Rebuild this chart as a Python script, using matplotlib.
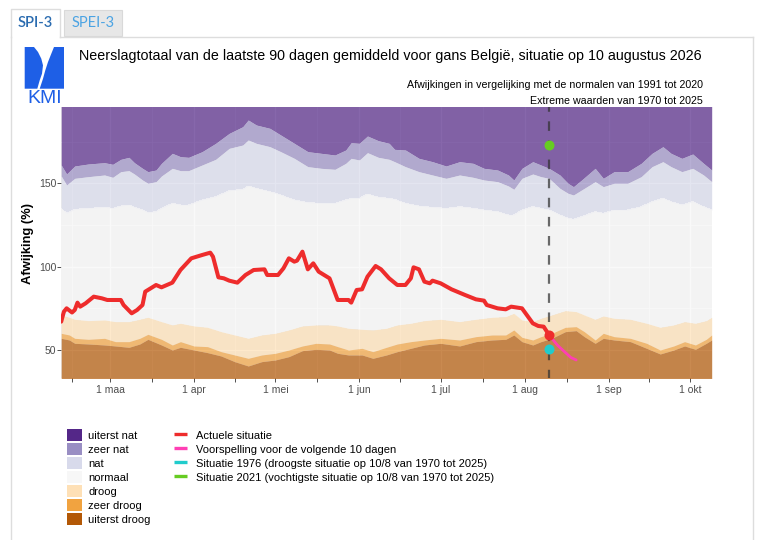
import numpy as np
import matplotlib
matplotlib.use('Agg')
import matplotlib.pyplot as plt
import matplotlib.dates as mdates
from matplotlib.patches import Patch, Rectangle, Polygon
from matplotlib.lines import Line2D

plt.rcParams['font.family'] = ['Liberation Sans', 'DejaVu Sans']

# ---------------- data ----------------
START = '2026-02-11'
END_DAY = 240          # 9 oktober
TODAY_DAY = 180        # 10 augustus

top_days = [0, 2, 5, 10, 16, 19, 22, 25, 27, 30, 32, 35, 37, 41, 44, 47, 52, 57, 62, 67,
            69, 72, 77, 81, 86, 91, 96, 101, 105, 107, 110, 113, 117, 121, 123, 127, 132, 137, 142, 147,
            152, 156, 161, 165, 167, 170, 174, 177, 180, 184, 187, 189, 192, 197, 200, 204, 209, 214, 218, 222,
            225, 229, 233, 237, 240]
thr_extreme_wet = [161, 155.6, 160.4, 161.6, 162.4, 161.4, 164.4, 165.6, 162.4, 159, 157, 158, 162, 168, 166, 165.6, 169, 174, 180, 184,
                   188, 185, 183, 179, 174, 169, 168, 167, 170, 174.4, 174, 178.4, 175.6, 174, 170.4, 170, 165, 163, 160.4, 163,
                   162, 159, 158, 155, 152, 159, 163, 161, 159, 155, 150, 148, 152, 159, 153, 157, 157, 162, 168, 172,
                   168, 165, 167.6, 162, 158]
thr_very_wet = [154.4, 149, 153, 154, 155, 153.6, 157, 157.6, 155.6, 152, 150, 151, 154.4, 159, 157.6, 157.6, 161, 164.4, 171, 173,
                176, 174, 172, 169, 165, 160, 159, 158.4, 162, 165, 164, 168.4, 165.6, 164.4, 163, 160, 157, 155, 153, 155,
                153.6, 152, 151, 148.4, 146.4, 153, 155.6, 154, 153, 147, 144, 143, 146, 151, 148, 150, 150, 154, 160, 163,
                160, 157, 159, 155, 151]
thr_wet = [135, 132, 134.4, 135, 135.6, 135, 136.4, 137, 135.6, 134, 132.4, 133, 135, 138, 137, 137, 140, 142, 145.6, 146.4,
           148.4, 147, 145, 143, 140, 138.4, 138, 138, 140, 141, 141, 143.6, 141.6, 141, 140.4, 138, 136.4, 135.6, 135, 136,
           135, 134, 133, 131, 131, 134, 136, 135, 134, 131, 129, 128.4, 130, 133, 132, 134, 134, 136, 139, 141,
           139, 137, 139, 136, 134]

bottom_days = [0, 3, 5, 10, 16, 20, 25, 29, 32, 37, 41, 44, 49, 54, 59, 64, 69, 74, 79, 84,
               89, 94, 99, 102, 106, 111, 115, 120, 124, 129, 134, 140, 147, 153, 159, 164, 167, 170, 174, 177,
               181, 186, 190, 193, 197, 200, 204, 210, 216, 221, 226, 230, 234, 238, 240]
thr_dry = [71, 69.6, 68.4, 67.6, 68, 67, 67, 68.4, 69.6, 67, 65, 66, 64.4, 63.6, 61, 59, 57, 59, 60, 62,
           64.4, 65, 65, 64.4, 63, 62.4, 62, 63, 65, 66, 67.6, 68.4, 67, 68.4, 69.6, 70, 72, 68, 67, 69,
           71, 73.6, 73, 71, 68.4, 70.4, 69, 68.4, 66, 63.6, 65, 67, 66, 67.6, 69.6]
thr_very_dry = [60, 59, 57, 56.4, 57, 55, 55, 57, 59.4, 56.4, 53, 55, 52.4, 52, 49, 47, 45, 47, 48, 50,
                52.4, 54, 53.6, 52, 50, 51, 49, 51.6, 53.6, 55, 56, 57, 56, 58, 59, 59, 62, 57.6, 56, 58,
                60, 63.6, 64, 61, 56, 60, 58, 57, 54, 50, 52.4, 55, 53, 56.4, 59]
thr_extreme_dry = [57, 56, 54, 53.6, 53, 52.4, 51.6, 53.6, 56.4, 53, 50, 51.6, 50, 48.4, 46.4, 43, 40.4, 43, 44, 46,
                   49.6, 50.4, 50, 48, 47, 47, 45, 47, 49, 51, 53, 54, 52.4, 55, 56, 56.4, 59, 55, 53, 55,
                   57, 61, 61.6, 58, 54, 57, 56, 55, 51, 47.6, 50, 52.4, 50.4, 54, 56]

actual_days = [0, 1, 2, 4, 5, 6, 7, 9, 12, 15, 17, 22, 23, 26, 28, 30, 31, 35, 37, 41,
               44, 48, 52, 55, 56, 58, 60, 62, 65, 68, 71, 75, 76, 80, 82, 84, 86, 87, 89, 91,
               93, 95, 97, 99, 102, 106, 107, 109, 111, 113, 116, 118, 121, 124, 127, 129, 130, 132, 134, 136,
               137, 140, 144, 149, 153, 156, 157, 161, 164, 166, 170, 174, 176, 178, 180]
actual_vals = [67, 73, 75, 72.5, 74, 78.4, 76, 78, 82, 81, 80, 80, 77, 72, 74, 77, 85, 89, 87.6, 90.4,
               98, 105, 107, 108.4, 106, 93.6, 93, 91.6, 90.4, 95, 98, 98.4, 95, 95, 99, 105, 103, 103.6, 109, 98.4,
               102, 97, 95, 93, 80, 80, 78.4, 86, 86.4, 94, 100.4, 98.4, 93, 89, 89, 93, 99.6, 98.4, 91, 90,
               91.6, 90, 86.4, 83, 80.4, 79.6, 77, 75, 74.4, 76, 75, 66, 64.4, 64, 59]

forecast_days = [180, 181, 183, 184, 185, 187, 188, 190]
forecast_vals = [59, 57, 53, 51.5, 50, 47, 45.5, 44]

value_1976 = 50.4
value_2021 = 173

band_labels = ['uiterst nat', 'zeer nat', 'nat', 'normaal', 'droog', 'zeer droog', 'uiterst droog']
band_colors = ['#542788', '#998ec3', '#d8daeb', '#f7f7f7', '#fee0b6', '#f1a340', '#b35806']

line_labels = ['Actuele situatie', 'Voorspelling voor de volgende 10 dagen',
               'Situatie 1976 (droogste situatie op 10/8 van 1970 tot 2025)',
               'Situatie 2021 (vochtigste situatie op 10/8 van 1970 tot 2025)']
line_colors = ['#ee2c2c', '#ff3fb4', '#20cccc', '#66cc22']

month_starts = ['2026-02-01', '2026-03-01', '2026-04-01', '2026-05-01', '2026-06-01',
                '2026-07-01', '2026-08-01', '2026-09-01', '2026-10-01']
tick_labels = ['1 maa', '1 apr', '1 mei', '1 jun', '1 jul', '1 aug', '1 sep', '1 okt']

y_ticks = [50, 100, 150]
YMIN, YMAX = 33.0, 196.0

title = 'Neerslagtotaal van de laatste 90 dagen gemiddeld voor gans België, situatie op 10 augustus 2026'
sub1 = 'Afwijkingen in vergelijking met de normalen van 1991 tot 2020'
sub2 = 'Extreme waarden van 1970 tot 2025'

# ---------------- figure ----------------
W, H = 761, 540
fig = plt.figure(figsize=(W / 100, H / 100), dpi=100)
fig.patch.set_facecolor('white')

# overlay in pixel coordinates for page decoration
ov = fig.add_axes([0, 0, 1, 1], zorder=0)
ov.set_xlim(0, W)
ov.set_ylim(H, 0)
ov.set_axis_off()

border = '#dddddd'
# content box
ov.plot([11, 11], [36.5, H], color=border, lw=1.0)
ov.plot([753, 753], [36.5, H], color=border, lw=1.0)
ov.plot([59.5, 753], [36.5, 36.5], color=border, lw=1.0)
# active tab
ov.plot([10.5, 10.5, 59.5, 59.5], [37, 9, 9, 36.5], color=border, lw=1.0)
# inactive tab
ov.add_patch(Rectangle((64, 9.5), 58, 26.5, facecolor='#e7e7e7', edgecolor='#d9d9d9', lw=0.8))
ov.text(35, 23, 'SPI-3', ha='center', va='center', fontsize=10.5, color='#2b6cb0',
        family=['Lato', 'DejaVu Sans'], fontweight='semibold')
ov.text(93, 23, 'SPEI-3', ha='center', va='center', fontsize=10.5, color='#4ba3e3',
        family=['Lato', 'DejaVu Sans'])

# KMI logo
blue = '#1e5fe6'
ov.add_patch(Polygon([(24.7, 47), (34, 47), (38, 52), (41.3, 58.7), (43, 65.3), (42, 73.7),
                      (39.7, 80.3), (37.3, 88.7), (24.7, 88.7)], closed=True, facecolor=blue, edgecolor='none'))
ov.add_patch(Polygon([(54, 47), (51.3, 53.7), (48, 62), (45.3, 70.3), (43, 78.7), (39.7, 88.7),
                      (64, 88.7), (64, 47)], closed=True, facecolor=blue, edgecolor='none'))
ov.text(44.5, 98.5, 'KMI', ha='center', va='center', fontsize=14, color=blue)

# titles
ov.text(79, 56, title, ha='left', va='center', fontsize=10.3, color='black')
ov.text(703, 84.5, sub1, ha='right', va='center', fontsize=7.7, color='black')
ov.text(703, 101, sub2, ha='right', va='center', fontsize=7.7, color='black')
ov.text(28, 243, 'Afwijking (%)', ha='center', va='center', rotation=90, fontsize=9.4,
        fontweight='bold', color='black')

# main axes
ax = fig.add_axes([61.2 / W, 1 - 378.3 / H, 650.5 / W, 271.6 / H], zorder=1)
ax.set_facecolor('#ebebeb')
for s in ax.spines.values():
    s.set_visible(False)

t0 = mdates.datestr2num(START)
xt = t0 + np.array(top_days, dtype=float)
xb = t0 + np.array(bottom_days, dtype=float)
B6 = np.array(thr_extreme_wet)
B5 = np.array(thr_very_wet)
B4 = np.array(thr_wet)
B3 = np.array(thr_dry)
B2 = np.array(thr_very_dry)
B1 = np.array(thr_extreme_dry)

alpha = 0.7
kw = dict(alpha=alpha, linewidth=0, antialiased=False, zorder=1)
ax.fill_between(xt, B6, YMAX + 20, color=band_colors[0], **kw)
ax.fill_between(xt, B5, B6, color=band_colors[1], **kw)
ax.fill_between(xt, B4, B5, color=band_colors[2], **kw)
ax.fill(np.concatenate([xb, xt[::-1]]), np.concatenate([B3, B4[::-1]]), color=band_colors[3], **kw)
ax.fill_between(xb, B2, B3, color=band_colors[4], **kw)
ax.fill_between(xb, B1, B2, color=band_colors[5], **kw)
ax.fill_between(xb, YMIN - 20, B1, color=band_colors[6], **kw)

x_today = t0 + TODAY_DAY
ax.axvline(x_today, color='#333333', alpha=0.72, lw=1.6, linestyle=(0.6, (4.3, 4.3)), zorder=2)

ax.plot(t0 + np.array(actual_days, dtype=float), actual_vals, color=line_colors[0], lw=2.9,
        solid_joinstyle='round', solid_capstyle='round', zorder=3)
ax.plot(t0 + np.array(forecast_days, dtype=float), forecast_vals, color=line_colors[1], lw=2.0,
        solid_joinstyle='round', solid_capstyle='round', zorder=3)
ax.plot([x_today], [actual_vals[-1]], 'o', color=line_colors[0], ms=7.2, mec='none', zorder=4)
ax.plot([x_today], [value_1976], 'o', color=line_colors[2], ms=7.2, mec='none', zorder=4)
ax.plot([x_today], [value_2021], 'o', color=line_colors[3], ms=7.2, mec='none', zorder=4)

ax.set_xlim(t0, t0 + END_DAY)
ax.set_ylim(YMIN, YMAX)

ms_num = mdates.datestr2num(month_starts)
ax.set_xticks(ms_num[1:])
ax.set_xticklabels(tick_labels)
ax.set_xticks((ms_num[:-1] + ms_num[1:]) / 2, minor=True)
ax.set_yticks(y_ticks)
ax.set_yticks([75, 125, 175], minor=True)

ax.set_axisbelow(True)
ax.grid(which='major', color='white', lw=0.9)
ax.grid(which='minor', color='white', lw=0.45)

ax.tick_params(axis='both', which='both', direction='out', length=2.6, width=0.6,
               color='#333333', labelsize=7.5, labelcolor='#4d4d4d')
ax.tick_params(axis='x', which='both', pad=2.2)
ax.tick_params(axis='y', which='major', pad=0.8)
ax.tick_params(axis='y', which='minor', length=0)

# legends
fs = 8
h1 = [Patch(facecolor=c, edgecolor='none', label=l) for c, l in zip(band_colors, band_labels)]
fig.legend(handles=h1, loc='upper left', bbox_to_anchor=(67 / W, 1 - 429 / H), frameon=False,
           fontsize=fs, handlelength=1.38, handleheight=1.35, handletextpad=0.55,
           labelspacing=0.136, borderpad=0, borderaxespad=0)
h2 = [Line2D([], [], color=c, lw=2.4, solid_capstyle='butt', label=l) for c, l in zip(line_colors, line_labels)]
fig.legend(handles=h2, loc='upper left', bbox_to_anchor=(174 / W, 1 - 429 / H), frameon=False,
           fontsize=fs, handlelength=1.2, handleheight=1.35, handletextpad=0.75,
           labelspacing=0.136, borderpad=0, borderaxespad=0)

fig.savefig('out.png', dpi=100)
